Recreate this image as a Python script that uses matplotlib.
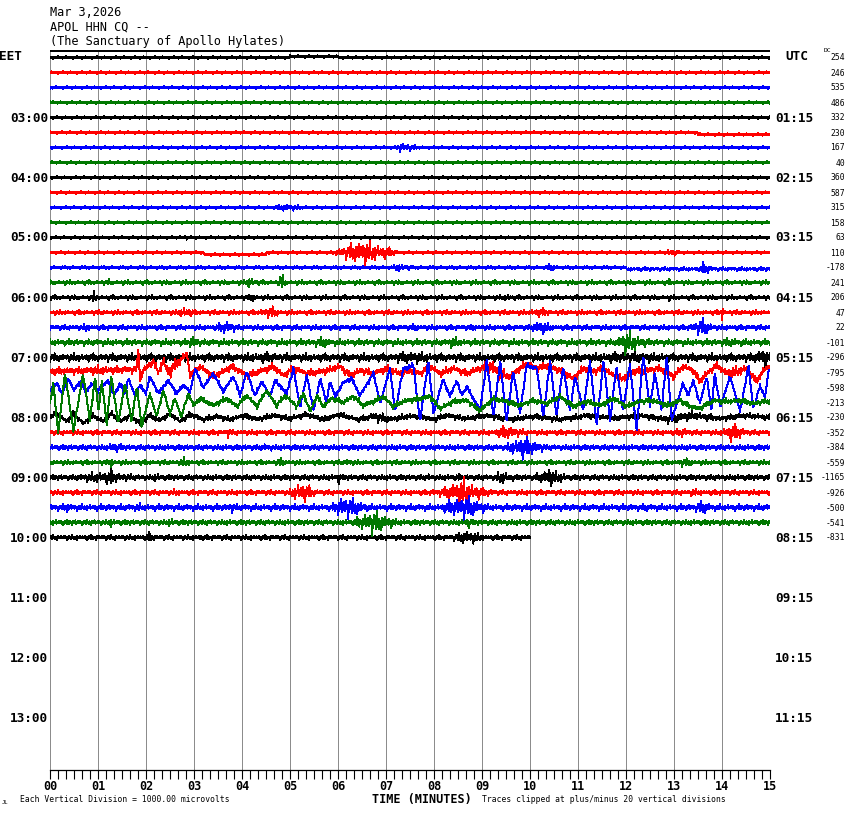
import numpy as np
import matplotlib
matplotlib.use('Agg')
from matplotlib import pyplot as plt

# --- data ------------------------------------------------------------------
title_lines = ['Mar 3,2026', 'APOL HHN CQ --', '(The Sanctuary of Apollo Hylates)']
eet_labels = ['03:00', '04:00', '05:00', '06:00', '07:00', '08:00', '09:00',
              '10:00', '11:00', '12:00', '13:00']
utc_labels = ['01:15', '02:15', '03:15', '04:15', '05:15', '06:15', '07:15',
              '08:15', '09:15', '10:15', '11:15']
minute_labels = ['%02d' % m for m in range(16)]
dc_values = [254, 246, 535, 486, 332, 230, 167, 40, 360, 587, 315, 158, 63, 110,
             -178, 241, 206, 47, 22, -101, -296, -795, -598, -213, -230, -352,
             -384, -559, -1165, -926, -500, -541, -831]

# background noise half-amplitude of every trace (px)
base_noise = [1.5, 1.5, 1.5, 1.5, 1.5, 1.5, 1.5, 1.5, 1.5, 1.5, 1.5, 1.5, 1.5,
              1.6, 1.9, 2.2, 2.2, 2.4, 2.7, 3.2, 4.2, 4.0, 2.5, 3.0, 3.0, 2.8,
              3.0, 2.5, 3.0, 2.8, 3.4, 3.0, 2.8]
last_row_end = 10.0   # minutes, last trace stops here

# events: (row, start min, peak min, end min, half amplitude px)
events = [
    (6, 7.2, 7.3, 7.8, 6), (10, 4.55, 4.9, 5.45, 4.5), (12, 2.75, 2.8, 2.9, 4),
    (13, 5.8, 6.5, 7.4, 14), (13, 12.8, 12.9, 13.2, 5),
    (14, 7.1, 7.25, 7.7, 5), (14, 10.3, 10.4, 10.8, 4), (14, 13.5, 13.6, 13.9, 7),
    (15, 4.05, 4.15, 4.4, 7), (15, 4.75, 4.8, 4.95, 11), (15, 1.1, 1.2, 1.35, 4),
    (15, 12.8, 12.9, 13.1, 4),
    (16, 0.85, 0.9, 1.05, 7), (16, 4.1, 4.2, 4.4, 6), (16, 9.4, 9.5, 9.7, 5),
    (16, 12.8, 12.9, 13.0, 4),
    (17, 2.5, 2.8, 3.2, 6), (17, 4.2, 4.6, 4.9, 7), (17, 9.8, 10.2, 10.7, 5),
    (17, 13.95, 14.0, 14.1, 9),
    (18, 0.65, 0.75, 0.9, 6), (18, 3.3, 3.7, 4.0, 8), (18, 7.4, 7.6, 7.8, 5),
    (18, 8.7, 8.8, 8.9, 4.5), (18, 9.9, 10.2, 10.6, 8), (18, 11.3, 11.4, 11.5, 4),
    (18, 13.2, 13.6, 13.9, 10),
    (19, 2.85, 2.95, 3.2, 9), (19, 5.2, 5.7, 6.0, 6), (19, 8.1, 8.4, 8.8, 6),
    (19, 11.7, 12.0, 12.6, 13), (19, 13.5, 14.2, 15.0, 5),
    (20, 3.0, 4.5, 6.0, 6), (20, 6.5, 7.5, 9.0, 7), (20, 9.5, 12.0, 14.5, 6.5),
    (20, 14.5, 14.9, 15.0, 13),
    (21, 0.0, 1.0, 2.0, 5.5), (21, 2.0, 2.5, 3.1, 8), (21, 8.9, 9.2, 9.8, 10),
    (21, 13.8, 14.2, 15.0, 7),
    (24, 1.7, 1.9, 2.3, 5), (24, 6.4, 6.8, 7.5, 6), (24, 12.3, 13.0, 14.8, 6),
    (25, 3.6, 3.7, 3.9, 6), (25, 9.1, 9.5, 10.1, 8), (25, 12.9, 13.2, 13.5, 6),
    (25, 13.9, 14.2, 14.7, 10),
    (26, 1.1, 1.3, 1.7, 6), (26, 4.2, 4.5, 4.8, 5), (26, 9.4, 9.8, 10.5, 13),
    (26, 13.1, 13.3, 13.6, 4),
    (27, 1.2, 1.25, 1.4, 7), (27, 2.6, 2.8, 3.0, 6), (27, 4.6, 4.8, 5.0, 5),
    (27, 6.1, 6.2, 6.4, 5), (27, 12.9, 13.2, 13.6, 5),
    (28, 0.0, 1.2, 2.1, 7), (28, 1.2, 1.25, 1.35, 13), (28, 2.1, 2.2, 2.4, 6),
    (28, 5.95, 6.0, 6.1, 8), (28, 7.8, 7.9, 8.0, 5), (28, 8.4, 8.5, 8.6, 5),
    (28, 9.2, 9.4, 9.8, 8), (28, 9.9, 10.4, 11.0, 9), (28, 10.35, 10.4, 10.5, 16),
    (29, 2.4, 2.6, 2.8, 4), (29, 4.9, 5.2, 5.7, 12), (29, 7.5, 8.5, 9.9, 7),
    (29, 8.0, 8.6, 9.2, 16), (29, 13.2, 13.4, 13.7, 5),
    (30, 0.25, 0.35, 0.5, 6), (30, 1.7, 1.85, 2.0, 5), (30, 3.5, 3.8, 4.0, 6),
    (30, 5.8, 6.1, 6.8, 14), (30, 8.0, 8.6, 9.3, 14), (30, 12.2, 12.4, 12.7, 5),
    (30, 13.3, 13.6, 14.0, 8),
    (31, 1.2, 1.25, 1.4, 6), (31, 2.4, 2.5, 2.7, 6), (31, 6.2, 6.7, 7.4, 14),
    (31, 8.6, 8.7, 8.9, 6), (31, 9.4, 9.5, 9.6, 4),
    (32, 1.95, 2.05, 2.3, 6), (32, 3.0, 3.1, 3.3, 5), (32, 8.2, 8.7, 9.2, 8),
]

# small baseline shifts: (row, start min, end min, px up)
shifts = [(0, 5.0, 6.0, 1), (5, 13.5, 15.0, -2), (13, 3.2, 4.5, -2), (14, 12.0, 15.0, -1.5)]

red_swell_t = [0.0, 1.806, 1.84, 1.875, 1.94, 2.15, 2.26, 2.36, 2.46, 2.85, 2.92, 3.13, 3.40,
               3.61, 3.78, 4.10, 4.375, 4.65, 4.86, 5.07, 5.35, 5.69, 6.04, 6.25, 6.46,
               6.74, 7.01, 7.29, 7.50, 7.71, 7.92, 8.13, 8.40, 8.68, 8.96, 9.17, 9.38,
               9.58, 9.79, 9.93, 10.14, 10.35, 10.625, 10.90, 11.11, 11.32, 11.53, 11.74,
               11.94, 12.15, 12.43, 12.71, 12.99, 13.19, 13.40, 13.54, 13.68, 13.89,
               14.10, 14.31, 14.51, 14.72, 14.86, 15.0]
red_swell_v = [1, 3, 27, -8, 2, 11, 0, 12, 0, 19, -3, 6, -4,
               1, 6, -3, 1, 6, -3, 4, -1, 1, 6, -3, 2,
               -1, 4, -1, 2, -1, 6, -1, 4, -1, 4, 6, -1,
               -4, 4, 9, 4, 7, 2, -6, 4, 1, 4, -3,
               -6, 1, 2, 4, -4, 6, 2, -9, -1, 7,
               -1, 1, 4, -9, 2, 6]

blue_swell_t = [0.0, 0.15, 0.25, 0.38, 0.5, 0.62, 0.75, 0.88, 1.0, 1.21, 1.33, 1.46, 1.56,
                1.63, 1.77, 1.875, 2.0, 2.08, 2.26, 2.46, 2.64, 2.78, 2.92, 3.02, 3.19,
                3.40, 3.61, 3.82, 3.96, 4.10, 4.27, 4.41, 4.58, 4.69, 4.93, 5.07, 5.21,
                5.35, 5.49, 5.63, 5.76, 5.83, 5.94, 6.11, 6.28, 6.46, 6.74, 6.88, 7.08,
                7.19, 7.36, 7.57, 7.71, 7.88, 7.99, 8.19, 8.33, 8.47, 8.58, 8.68, 8.96,
                9.10, 9.24, 9.38, 9.51, 9.65, 9.79, 9.93, 10.14, 10.28, 10.42, 10.55,
                10.69, 10.83, 10.94, 11.11, 11.25, 11.39, 11.53, 11.67, 11.80, 11.94,
                12.08, 12.22, 12.36, 12.50, 12.60, 12.74, 12.85, 12.95, 13.19, 13.30,
                13.40, 13.54, 13.68, 13.78, 13.85, 13.96, 14.17, 14.38, 14.55, 14.65,
                14.79, 14.90, 14.97]
blue_swell_v = [-3, 4, -6, 9, -3, 6, -4, 4, -3, 7, -8, 4, -7,
                9, -8, 2, -6, 11, -6, 7, -6, 3, -5, 19, 0,
                14, -4, 11, -8, 16, -8, 6, -9, 7, -6, 19, -19,
                12, -23, 9, -16, 7, -9, 5, 9, -8, 14, -16, 19,
                -24, 19, 22, -34, 27, -26, 9, -9, 7, -8, 1, -23,
                27, -29, 27, -34, 17, -26, 22, 19, -29, 27, -29,
                21, -23, 11, -23, 26, -38, 27, -33, 21, -24,
                24, -43, 31, -19, 14, -23, 31, -33, 4, -8,
                7, -16, 11, -23, 14, -19, 11, -24, 22, -21,
                1, -9, 17]

green_swell_t = [0.0, 0.07, 0.17, 0.31, 0.49, 0.69, 0.83, 0.94, 1.01, 1.08, 1.18, 1.28,
                 1.42, 1.56, 1.70, 1.81, 1.91, 2.08, 2.22, 2.36, 2.50, 2.60, 2.74, 2.88,
                 2.99, 3.13, 3.40, 3.68, 3.89, 4.10, 4.31, 4.51, 4.72, 4.90, 5.14, 5.28,
                 5.42, 5.56, 5.69, 5.87, 6.11, 6.32, 6.53, 6.74, 6.94, 7.15, 7.36, 7.71,
                 7.92, 8.13, 8.40, 8.68, 8.96, 9.24, 9.51, 9.79, 10.07, 10.35, 10.625,
                 10.90, 11.18, 11.46, 11.74, 12.01, 12.29, 12.57, 12.85, 13.13, 13.33,
                 13.54, 13.82, 14.10, 14.38, 14.65, 14.93]
green_swell_v = [0, 19, -31, 29, -28, 29, -18, 26, -10, 22, -21, 26,
                 -21, 19, -18, 16, -24, 9, -14, 12, -11, 4, -14, 9,
                 -3, 4, -3, 4, -4, 7, -4, 12, -3, 7, -4, 9,
                 -9, 7, -4, 4, 0, 6, -3, 1, 6, -4, 1, 4,
                 6, -6, 1, 2, -8, 4, 1, -3, 2, -1, 6,
                 -4, 1, -3, 4, -4, 1, 2, -3, 2, -4,
                 -6, 2, 1, 2, -1, 1]

black_swell_t = [0.0, 0.14, 0.35, 0.49, 0.69, 0.90, 1.11, 1.28, 1.46, 1.67, 1.875, 2.08,
                 2.29, 2.50, 2.71, 2.92, 3.19, 3.47, 3.75, 4.03, 4.31, 4.65, 5.0, 5.35,
                 5.69, 6.04, 6.39, 6.74, 7.08, 7.43, 7.71, 7.99, 8.26, 8.68, 9.10, 9.58,
                 10.07, 10.625, 11.18, 11.74, 12.29, 12.85, 13.40, 13.96, 14.51, 15.0]
black_swell_v = [0, 4, -4, 4, -6, 2, -4, 4, -4, 2, -6, 2,
                 -3, 4, -4, 3, -2, 1, -2, 2, -2, 2, -1, 3,
                 -2, 3, -2, 1, -2, 1, 1, -2, 2, -1, 2, -2,
                 1, -2, 2, -1, 2, -2, 2, -1, 2, 0]

swells = {21: (red_swell_t, red_swell_v), 22: (blue_swell_t, blue_swell_v),
          23: (green_swell_t, green_swell_v), 24: (black_swell_t, black_swell_v)}

# fixed jitter pattern used for the fine wiggle of every trace
jitter = [0.1, -0.3, 0.5, -0.15, 0.25, -1.0, 0.2, -0.4, 0.6, -0.05, 0.3, -0.5,
          1.0, -0.25, 0.05, -0.6, 0.35, -0.15, 0.2, -0.8, 0.45, -0.3, 0.15, -0.1,
          0.7, -0.35, 0.1, -0.2, 0.4]

trace_colors = ['#000000', '#ff0000', '#0000ff', '#007800']
grid_gray = '#8c8c8c'

# --- figure -----------------------------------------------------------------
W, H = 850, 814
fig = plt.figure(figsize=(W / 100, H / 100), dpi=100)
fig.patch.set_facecolor('white')
ax = fig.add_axes([50 / W, (H - 770) / H, 720 / W, 720 / H])
ax.set_xlim(0, 15)
ax.set_ylim(720, 0)
ax.axis('off')

mono = 'DejaVu Sans Mono'


def ftext(x, y, s, **kw):
    kw.setdefault('family', mono)
    fig.text(x / W, 1 - y / H, s, **kw)


# minute grid lines
for m in range(16):
    ax.plot([m, m], [0, 720], color=grid_gray, lw=0.72, antialiased=False, zorder=1)
ax.plot([0, 15], [0, 0], color='black', lw=0.9, antialiased=False, zorder=1)

# traces
t = np.linspace(0, 15, 1081)
for i in range(len(dc_values)):
    tt = t if i < len(dc_values) - 1 else t[t <= last_row_end]
    env = np.full(len(tt), base_noise[i])
    for (r, t0, tp, t1, a) in events:
        if r == i:
            env = np.maximum(env, np.interp(tt, [t0, tp, t1], [0, a, 0], left=0, right=0))
    pat = np.roll(np.array(jitter), i * 7)
    disp = env * np.resize(pat, len(tt))
    for (r, t0, t1, dv) in shifts:
        if r == i:
            disp = disp + np.where((tt >= t0) & (tt <= t1), dv, 0)
    if i in swells:
        st, sv = swells[i]
        disp = disp + np.interp(tt, st, sv)
    yc = 7.5 + 15 * i
    ax.plot(tt, yc - disp, color=trace_colors[i % 4], lw=0.72, antialiased=False,
            zorder=2 + (i % 4))

# bottom axis with ticks
bax = fig.add_axes([50 / W, (H - 770) / H, 720 / W, 1e-4])
bax.set_xlim(0, 15)
for s in ['left', 'right', 'top']:
    bax.spines[s].set_visible(False)
bax.spines['bottom'].set_linewidth(0.9)
bax.set_yticks([])
bax.set_xticks(np.arange(0, 15.01, 1))
bax.set_xticks(np.arange(0, 15.01, 1 / 6), minor=True)
bax.tick_params(axis='x', which='both', direction='out', length=6.5, width=0.8,
                labelsize=8.5, pad=1)
bax.set_xticklabels(minute_labels, family=mono, fontweight='bold')
bax.patch.set_alpha(0)

# header text
for k, line in enumerate(title_lines):
    ftext(50, 12 + 15 * k, line, fontsize=8.6, va='center', ha='left')

# side labels
ftext(-1, 57, 'EET', fontsize=9.2, fontweight='bold', va='center', ha='left')
ftext(785, 57, 'UTC', fontsize=9.2, fontweight='bold', va='center', ha='left')
for k in range(len(eet_labels)):
    y = 118 + 60 * k
    ftext(48, y, eet_labels[k], fontsize=9.2, fontweight='bold', va='center', ha='right')
    ftext(775, y, utc_labels[k], fontsize=9.2, fontweight='bold', va='center', ha='left')

ftext(831, 51, 'DC', fontsize=4.6, va='center', ha='right')
for i, v in enumerate(dc_values):
    ftext(845, 58 + 15 * i, str(v), fontsize=5.8, va='center', ha='right')

# footer
ftext(422, 800, 'TIME (MINUTES)', fontsize=8.5, fontweight='bold', va='center', ha='center')
ftext(20, 800, 'Each Vertical Division = 1000.00 microvolts', fontsize=5.8,
      va='center', ha='left')
ftext(482, 800, 'Traces clipped at plus/minus 20 vertical divisions', fontsize=5.8,
      va='center', ha='left')
ftext(2, 802, 'JL', fontsize=4, va='center', ha='left')

fig.savefig('out.png', dpi=100)
